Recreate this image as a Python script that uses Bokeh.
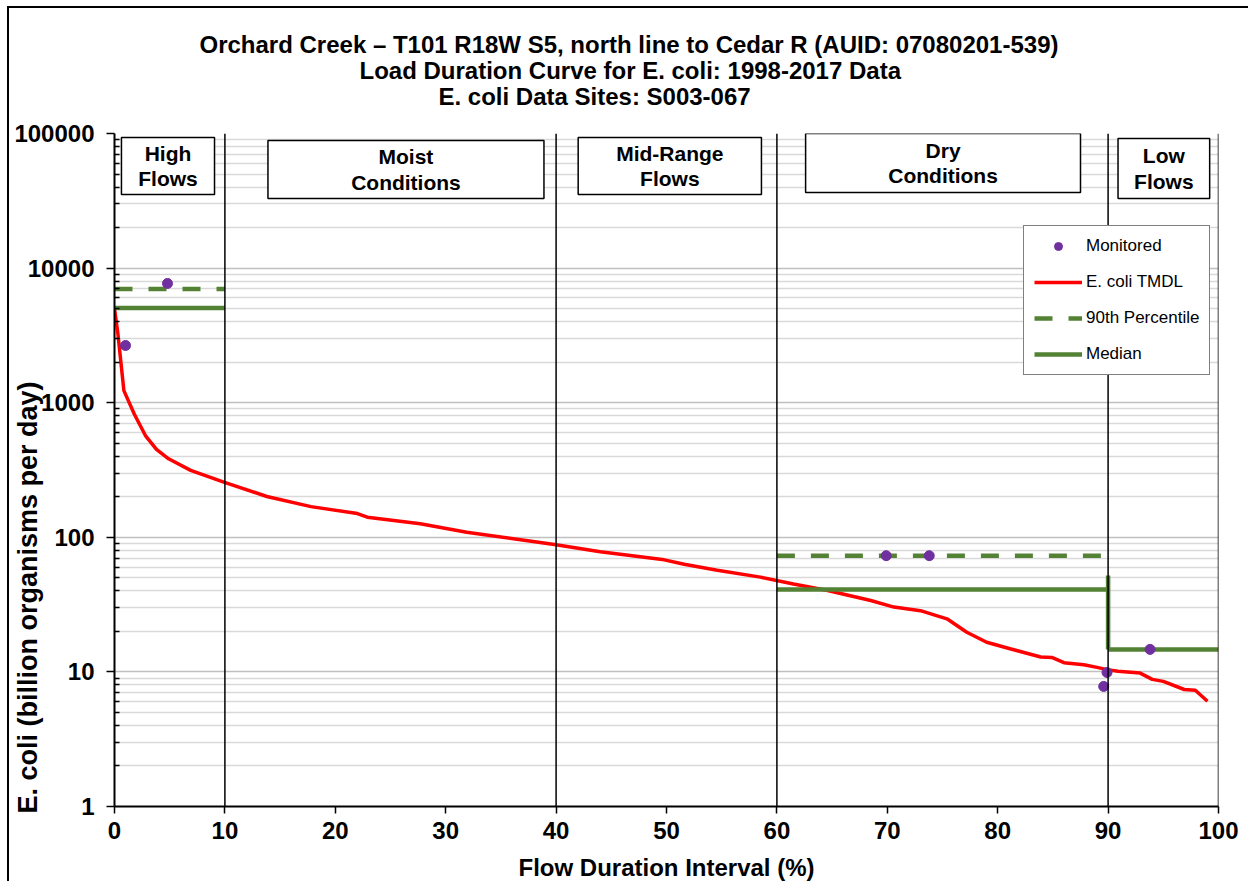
from bokeh.plotting import figure
from bokeh.models import (Span, Legend, LegendItem, FixedTicker, CustomJSTickFormatter, Title, Range1d)
from bokeh.core.properties import value
from bokeh.embed import file_html
from bokeh.resources import INLINE

# ---- data ----
tmdl_x = [0, 0.3, 0.85, 1.8, 2.8, 3.8, 4.9, 6.9, 9.9, 13.8, 17.8, 22, 22.9, 27.7, 31.9, 37.1, 40, 44,
          49.8, 51.6, 54.6, 58.5, 61.5, 64.6, 68.5, 70.6, 73, 75.4, 77.2, 79, 81.2, 83.9, 84.9, 86,
          87.8, 89, 89.9, 90.9, 92.9, 94, 95, 96.9, 97.9, 99]
tmdl_y = [5000, 3300, 1230, 820, 570, 450, 383, 314, 257, 201, 169, 150, 141, 126, 109, 95, 88, 78,
          68, 63, 57, 50.6, 45, 40.2, 33.9, 30.3, 28.5, 24.8, 19.7, 16.6, 14.8, 12.9, 12.8, 11.7,
          11.3, 10.8, 10.4, 10.1, 9.8, 8.8, 8.5, 7.4, 7.3, 6.06]

mon_x = [1.0, 4.8, 69.9, 73.8, 89.9, 89.6, 93.8]
mon_y = [2660, 7690, 73, 73, 9.9, 7.8, 14.7]

p90_x0 = [0, 60]
p90_x1 = [10, 90]
p90_y = [7000, 73]

med_x0 = [0, 60, 90, 90]
med_x1 = [10, 90, 90, 100]
med_y0 = [5050, 41, 52, 14.7]
med_y1 = [5050, 41, 14.7, 14.7]

zone_bounds = [10, 40, 60, 90, 100]
zone_labels = ["High\nFlows", "Moist\nConditions", "Mid-Range\nFlows", "Dry\nConditions", "Low\nFlows"]
zone_left = [0.63, 13.9, 42.0, 62.6, 90.9]
zone_right = [9.06, 38.9, 58.6, 87.5, 99.2]
zone_top = [93300, 88700, 93300, 100000, 91800]
zone_bottom = [35200, 32900, 35200, 36500, 32900]

titles = ["Orchard Creek \u2013 T101 R18W S5, north line to Cedar R (AUID: 07080201-539)",
          "Load Duration Curve for E. coli: 1998-2017 Data",
          "E. coli Data Sites: S003-067"]
y_label = "E. coli (billion organisms per day)"
x_label = "Flow Duration Interval (%)"

y_major = [1, 10, 100, 1000, 10000, 100000]
x_ticks = [0, 10, 20, 30, 40, 50, 60, 70, 80, 90, 100]

FONT = "Liberation Sans"
GREEN = "#548235"
RED = "#ff0000"
PURPLE = "#7030a0"

p = figure(width=1241, height=875, y_axis_type="log", output_backend="svg", toolbar_location=None,
           x_range=Range1d(0, 100), y_range=Range1d(1, 100000),
           min_border_left=105, min_border_right=32, min_border_bottom=77, min_border_top=125)
p.margin = (6, 0, 0, 7)
p.styles = {"border-left": "2px solid black", "border-top": "2px solid black"}
p.outline_line_color = None
p.background_fill_color = "white"
p.border_fill_color = "white"

xax = p.below[0]
yax = p.left[0]

# grid
p.xgrid.visible = False
p.ygrid.grid_line_color = "#c0c0c0"
p.ygrid.grid_line_width = 1.5
p.ygrid.minor_grid_line_color = "#d9d9d9"
p.ygrid.minor_grid_line_width = 1.5

minor = [d * k for d in y_major[:-1] for k in range(2, 10)]
yax.ticker = FixedTicker(ticks=y_major, minor_ticks=minor)
yax.formatter = CustomJSTickFormatter(code="return tick.toFixed(0);")
xax.ticker = FixedTicker(ticks=x_ticks)

for ax in (xax, yax):
    ax.axis_line_color = "black"
    ax.axis_line_width = 2
    ax.major_tick_line_color = "black"
    ax.major_tick_line_width = 1.5
    ax.minor_tick_line_color = "black"
    ax.minor_tick_line_width = 1.5
    ax.major_label_text_font = FONT
    ax.major_label_text_font_style = "bold"
    ax.major_label_text_font_size = "24px"
    ax.major_label_text_color = "black"
    ax.axis_label_text_font = FONT
    ax.axis_label_text_font_style = "bold"
    ax.axis_label_text_font_size = "24px"
    ax.axis_label_text_color = "black"

yax.major_tick_in = 0
yax.major_tick_out = 8
yax.minor_tick_in = 5
yax.minor_tick_out = 0
yax.major_label_standoff = 12
# trailing no-break spaces push the (centred) label towards the bottom, as in the original
yax.axis_label = y_label + "\u00a0" * 34
yax.axis_label_text_font_size = "27px"
yax.axis_label_standoff = -32

xax.major_tick_in = 0
xax.major_tick_out = 7
xax.minor_tick_in = 0
xax.minor_tick_out = 0
xax.major_label_standoff = 8
xax.axis_label = x_label
xax.axis_label_standoff = 12

# blank spacer title between the frame and the three title lines
p.add_layout(Title(text=" ", text_font_size="1px", standoff=22), "above")

# titles: first added sits closest to the frame
title_offsets = [85, 245, 324]
for t, off in reversed(list(zip(titles, title_offsets))):
    p.add_layout(Title(text=t, align="left", offset=off, standoff=-3,
                       text_font=FONT, text_font_size="24px", text_font_style="bold",
                       text_color="black"), "above")

# zone separators
for b in zone_bounds:
    p.add_layout(Span(location=b, dimension="height", line_color="black", line_width=1.5))

# zone label boxes
p.quad(left=zone_left, right=zone_right, top=zone_top, bottom=zone_bottom,
       fill_color="white", line_color="black", line_width=1.5)
zone_cx = [(a + b) / 2 for a, b in zip(zone_left, zone_right)]
zone_cy = [(t * b) ** 0.5 for t, b in zip(zone_top, zone_bottom)]
p.text(x=zone_cx, y=zone_cy, text=zone_labels, text_align="center", text_baseline="middle",
       text_font=value(FONT), text_font_style="bold", text_font_size="21px", text_color="black",
       text_line_height=1.1)

# series
r_tmdl = p.line(tmdl_x, tmdl_y, line_color=RED, line_width=3.5)
r_p90 = p.segment(x0=p90_x0, x1=p90_x1, y0=p90_y, y1=p90_y, line_color=GREEN, line_width=4.5,
                  line_dash="18 16")
r_med = p.segment(x0=med_x0, x1=med_x1, y0=med_y0, y1=med_y1, line_color=GREEN, line_width=4.5)
r_mon = p.scatter(mon_x, mon_y, size=10, fill_color=PURPLE, line_color=PURPLE)

legend = Legend(items=[LegendItem(label="Monitored", renderers=[r_mon]),
                       LegendItem(label="E. coli TMDL", renderers=[r_tmdl]),
                       LegendItem(label="90th Percentile", renderers=[r_p90]),
                       LegendItem(label="Median", renderers=[r_med])],
                location=(909, 431), glyph_width=48, glyph_height=20, spacing=16,
                label_standoff=4, padding=10, margin=0,
                label_text_font=FONT, label_text_font_size="17px", label_text_color="black",
                border_line_color="black", border_line_width=1.5, background_fill_alpha=1)
p.add_layout(legend, "center")

open("out.html", "w").write(file_html(p, INLINE))
